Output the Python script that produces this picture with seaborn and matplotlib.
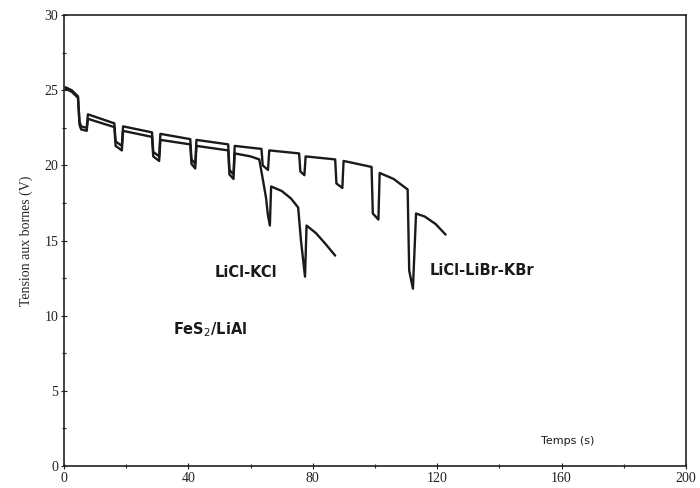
import matplotlib
matplotlib.use("Agg")
import matplotlib.pyplot as plt
import seaborn as sns
import pandas as pd
from matplotlib.ticker import MultipleLocator

# ---- data ----
t_librkbr = [0.5, 2.5, 4.5, 5.0, 5.5, 7.3, 7.7,
             16.2, 16.6, 18.6, 19.0,
             28.3, 28.7, 30.6, 31.0,
             40.6, 41.0, 42.2, 42.6,
             52.8, 53.2, 54.5, 54.9,
             63.5, 63.9, 65.6, 66.0,
             75.6, 76.0, 77.3, 77.7,
             87.2, 87.6, 89.5, 89.9,
             98.9, 99.3, 101.1, 101.5,
             106.0, 110.5, 111.0, 112.2, 113.2,
             116.0, 119.5, 122.7]
v_librkbr = [25.2, 25.0, 24.6, 22.9, 22.6, 22.5, 23.4,
             22.8, 21.6, 21.3, 22.6,
             22.2, 20.9, 20.6, 22.1,
             21.75, 20.4, 20.1, 21.7,
             21.4, 19.7, 19.4, 21.3,
             21.1, 20.0, 19.7, 21.0,
             20.8, 19.6, 19.35, 20.6,
             20.4, 18.8, 18.5, 20.3,
             19.9, 16.8, 16.4, 19.5,
             19.1, 18.4, 13.0, 11.8, 16.8,
             16.6, 16.1, 15.4]

t_kcl = [0.5, 2.5, 4.5, 5.0, 5.5, 7.3, 7.7,
         16.2, 16.6, 18.6, 19.0,
         28.3, 28.7, 30.6, 31.0,
         40.6, 41.0, 42.2, 42.6,
         52.8, 53.2, 54.5, 54.9,
         60.0, 62.8, 64.0, 65.0, 65.5, 66.2, 66.6,
         70.0, 73.0, 75.3, 76.2, 77.5, 78.0,
         81.0, 84.0, 87.2]
v_kcl = [25.1, 24.9, 24.5, 22.7, 22.4, 22.3, 23.1,
         22.55, 21.3, 21.0, 22.3,
         21.9, 20.6, 20.3, 21.7,
         21.4, 20.1, 19.8, 21.3,
         21.0, 19.4, 19.1, 20.8,
         20.6, 20.4, 19.0, 17.8, 16.8, 16.0, 18.6,
         18.3, 17.8, 17.2, 15.0, 12.6, 16.0,
         15.5, 14.8, 14.0]

labels = ["LiCl-KCl", "LiCl-LiBr-KBr"]
x_ticks = [0, 40, 80, 120, 160, 200]
y_ticks = [0, 5, 10, 15, 20, 25, 30]

df = pd.concat([
    pd.DataFrame({"t": t_kcl, "v": v_kcl, "s": labels[0]}),
    pd.DataFrame({"t": t_librkbr, "v": v_librkbr, "s": labels[1]}),
])

sns.set_theme(style="white")
plt.rcParams["font.family"] = ["Liberation Serif", "DejaVu Serif"]

fig = plt.figure(figsize=(7.0, 4.88), dpi=100)
ax = fig.add_axes([0.0914, 0.045, 0.8886, 0.924])

for name in labels:
    sub = df[df["s"] == name]
    sns.lineplot(data=sub, x="t", y="v", sort=False, estimator=None,
                 color="#1a1a1a", linewidth=1.7, ax=ax, legend=False)

ax.set_xlim(0, 200)
ax.set_ylim(0, 30)
ax.set_xticks(x_ticks)
ax.set_yticks(y_ticks)
ax.xaxis.set_minor_locator(MultipleLocator(20))
ax.yaxis.set_minor_locator(MultipleLocator(2.5))
ax.tick_params(which="both", direction="inout", length=4, width=0.8,
               colors="#222222", labelsize=10, pad=2)
ax.tick_params(which="minor", length=3)
ax.tick_params(axis="both", which="both", bottom=True, left=True)
for s in ax.spines.values():
    s.set_color("#222222")
    s.set_linewidth(1.2)
ax.set_xlabel("")
ax.set_ylabel("Tension aux bornes (V)", fontsize=10, labelpad=8)

lab_font = dict(family=["DejaVu Sans"], fontweight="bold", fontsize=10.5,
                color="#1a1a1a")
ax.text(48.5, 12.9, "LiCl-KCl", va="center", ha="left", **lab_font)
ax.text(117.5, 13.0, "LiCl-LiBr-KBr", va="center", ha="left", **lab_font)
ax.text(35.2, 9.05, "FeS$_2$/LiAl", va="center", ha="left", **lab_font)
ax.text(153.5, 1.66, "Temps (s)", va="center", ha="left",
        family=["DejaVu Sans"], fontsize=8, color="#1a1a1a")

fig.savefig("out.png", dpi=100)
